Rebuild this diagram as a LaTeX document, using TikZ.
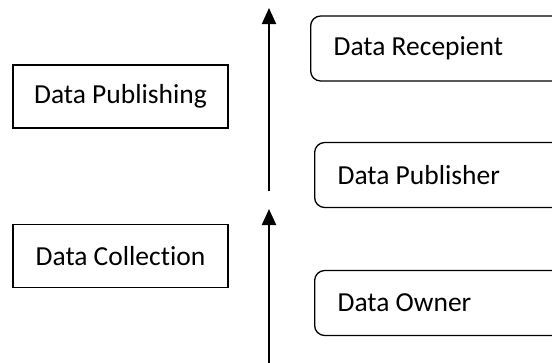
\documentclass[tikz,border=0pt]{standalone}
\usepackage{fontspec}
\setmainfont[Ligatures=NoCommon]{Carlito}
\usetikzlibrary{arrows.meta}
\newcommand{\rolelabel}[1]{\makebox[260pt][l]{#1}}
\begin{document}
\begin{tikzpicture}[x=1pt,y=-1pt,
  stage/.style={draw, line width=1.3pt, minimum width=215pt, minimum height=63pt,
    inner sep=0pt, font=\fontsize{27.5}{33}\selectfont},
  role/.style={draw, line width=1.3pt, rounded corners=10pt, minimum height=65pt,
    inner xsep=23pt, inner ysep=0pt, anchor=west,
    font=\fontsize{27.5}{33}\selectfont},
  flow/.style={line width=2pt, -{Triangle[length=16pt,width=14pt]}}]
  \clip (0,0) rectangle (552,362);
  \fill[white] (0,0) rectangle (552,362);

  % lifecycle stages
  \node[stage] (pub) at (120.5,96.5) {Data Publishing};
  \node[stage] (col) at (120.5,256) {Data Collection};

  % participants
  \node[role] (rec) at (310,48.5) {\rolelabel{Data Recepient}};
  \node[role] (pbr) at (314,175) {\rolelabel{Data Publisher}};
  \node[role] (own) at (314,303) {\rolelabel{Data Owner}};

  % direction of data flow
  \coordinate (u1) at (269,191);
  \coordinate (u2) at (269,8);
  \coordinate (l1) at (269,370);
  \coordinate (l2) at (269,209);
  \draw[flow] (u1) -- (u2);
  \draw[flow] (l1) -- (l2);
\end{tikzpicture}
\end{document}
